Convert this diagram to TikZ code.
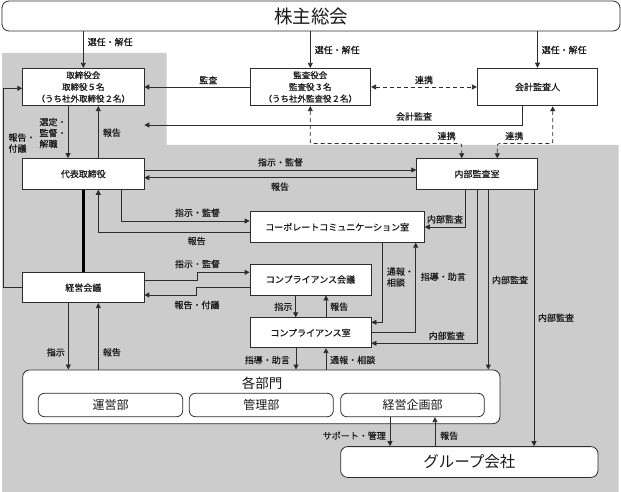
\documentclass[tikz,border=0pt]{standalone}
\usepackage{fontspec}
\setmainfont{Noto Sans CJK JP}
\newfontfamily\smallfont{Noto Sans CJK JP}[FakeBold=0.45]
\usetikzlibrary{arrows.meta}

\definecolor{bgcolor}{RGB}{204,204,204}
\definecolor{linecolor}{RGB}{45,45,45}
\definecolor{textcolor}{RGB}{25,25,25}

\tikzset{
  box/.style={draw=linecolor, fill=white, line width=0.8pt, inner sep=0pt, align=center, text=textcolor, font=\smallfont\fontsize{9}{11}\selectfont},
  triobox/.style={box, font=\smallfont\fontsize{8.5}{11.7}\selectfont},
  roundbox/.style={box, rounded corners=7pt},
  lbl/.style={inner sep=0pt, text=textcolor, align=left, font=\smallfont\fontsize{9}{11}\selectfont},
  arr/.style={draw=linecolor, line width=0.8pt, -{Triangle[length=5pt,width=5pt]}},
  linkarr/.style={arr, {Triangle[length=5pt,width=5pt]}-{Triangle[length=5pt,width=5pt]}, dash pattern=on 4pt off 3pt},
}

\begin{document}
\begin{tikzpicture}[x=1pt,y=-1pt]
        \useasboundingbox (0,0) rectangle (621,492);

        % Gray area
        \fill[bgcolor] (2,53) -- (166.7,53) -- (166.7,145) -- (618.5,145) -- (618.5,492) -- (2,492) -- cycle;

        % Boxes
        \node[roundbox, minimum width=618pt, minimum height=30pt, font=\rmfamily\fontsize{18.5}{20}\selectfont] (soukai) at (311,16) {株主総会};
        \node[triobox, minimum width=121.3pt, minimum height=37.4pt] (torikai) at (83.3,87) {取締役会\\取締役５名\\（うち社外取締役２名）};
        \node[triobox, minimum width=120.7pt, minimum height=37.4pt] (kansakai) at (310.3,87) {監査役会\\監査役３名\\（うち社外監査役２名）};
        \node[box, minimum width=120.4pt, minimum height=37.7pt] (kaikei) at (537.5,87) {会計監査人};
        \node[box, minimum width=121.3pt, minimum height=30.8pt] (daihyo) at (83.3,174) {代表取締役};
        \node[box, minimum width=120.6pt, minimum height=30.6pt] (naibu) at (477,174) {内部監査室};
        \node[box, minimum width=174.3pt, minimum height=30.6pt] (corp) at (337.2,227) {コーポレートコミュニケーション室};
        \node[box, minimum width=121.3pt, minimum height=30pt] (keiei) at (83.3,287.7) {経営会議};
        \node[box, minimum width=121pt, minimum height=31pt] (compkai) at (310.5,279.5) {コンプライアンス会議};
        \node[box, minimum width=121pt, minimum height=30pt] (compshitsu) at (310.5,332.7) {コンプライアンス室};

        % Departments
        \node[roundbox, minimum width=477.3pt, minimum height=53.7pt] (kakubu) at (261.3,396.8) {};
        \node[lbl, font=\rmfamily\fontsize{13.5}{14}\selectfont] (kakubuname) at (262,383) {各部門};
        \node[roundbox, rounded corners=6pt, minimum width=144.4pt, minimum height=23.4pt, font=\rmfamily\fontsize{12}{13}\selectfont] (unei) at (110.5,405) {運営部};
        \node[roundbox, rounded corners=6pt, minimum width=144pt, minimum height=23.4pt, font=\rmfamily\fontsize{12}{13}\selectfont] (kanri) at (261.3,405) {管理部};
        \node[roundbox, rounded corners=6pt, minimum width=143.6pt, minimum height=23.4pt, font=\rmfamily\fontsize{12}{13}\selectfont] (kikaku) at (412.5,405) {経営企画部};
        \node[roundbox, minimum width=257.3pt, minimum height=30.8pt, font=\rmfamily\fontsize{15.5}{17}\selectfont] (group) at (469.3,462) {グループ会社};

        % Shareholders
        \draw[arr] (soukai.south -| torikai.north) -- (torikai.north);
        \draw[arr] (soukai.south -| kansakai.north) -- (kansakai.north);
        \draw[arr] (soukai.south -| kaikei.north) -- (kaikei.north);
        \node[lbl, anchor=west] (senA) at (87.5,42) {選任・解任};
        \node[lbl, anchor=west] (senB) at (314.5,50) {選任・解任};
        \node[lbl, anchor=west] (senC) at (541.5,50) {選任・解任};

        % Audit
        \draw[arr] (kansakai.west) -- (torikai.east);
        \node[lbl] (kansa) at (208.3,80) {監査};
        \draw[linkarr] (kansakai.east) -- (kaikei.west);
        \node[lbl] (renkeiA) at (424,80) {連携};
        \draw[arr] ([xshift=-15.2pt]kaikei.south) |- ([yshift=-38pt]torikai.east);
        \node[lbl] (kaikeikansa) at (414,116.5) {会計監査};
        \draw[linkarr, rounded corners=2pt] (kansakai.south) |- ([xshift=-15.3pt,yshift=14.7pt]naibu.north) -- ([xshift=-15.3pt]naibu.north);
        \draw[linkarr, rounded corners=2pt] ([xshift=15.2pt]kaikei.south) |- ([xshift=20.3pt,yshift=14.7pt]naibu.north) -- ([xshift=20.3pt]naibu.north);
        \node[lbl] (renkeiB) at (446.7,136) {連携};
        \node[lbl] (renkeiC) at (514.3,136) {連携};

        % Board and representative
        \draw[arr] ([xshift=-15.3pt]torikai.south) -- ([xshift=-15.3pt]daihyo.north);
        \node[lbl, anchor=west] (sentei) at (39.3,133) {選定・\\監督・\\解職};
        \draw[arr] ([xshift=15pt]daihyo.north) -- ([xshift=15pt]torikai.south);
        \node[lbl, anchor=west] (houkokuA) at (102.7,132.7) {報告};
        \draw[arr] (keiei.west) -- ++(-18.7,0) |- ([yshift=-1.3pt]torikai.west);
        \node[lbl, anchor=west] (fugiA) at (8.3,143) {報告・\\付議};
        \draw[line width=3.5pt] (daihyo.south) -- (keiei.north);

        % Representative and offices
        \draw[arr] ([yshift=4pt]daihyo.east) -- ([yshift=4pt]naibu.west);
        \node[lbl] (shijiA) at (280.5,162.3) {指示・監督};
        \draw[arr] ([yshift=-3.7pt]naibu.west) -- ([yshift=-3.7pt]daihyo.east);
        \node[lbl] (houkokuB) at (280,186.7) {報告};
        \draw[arr] ([xshift=38.4pt]daihyo.south) |- ([yshift=6pt]corp.west);
        \node[lbl] (shijiB) at (197.5,212.7) {指示・監督};
        \draw[arr] ([yshift=-5.7pt]corp.west) -| ([xshift=15pt]daihyo.south);
        \node[lbl] (houkokuC) at (196.7,241) {報告};

        % Management meeting and compliance
        \draw[arr] ([yshift=7.7pt]keiei.east) -- ++(53,0) |- ([yshift=7.2pt]compkai.west);
        \node[lbl] (shijiC) at (197.5,264) {指示・監督};
        \draw[arr] ([yshift=-7.8pt]compkai.west) -- ++(-53.3,0) |- ([yshift=-7.3pt]keiei.east);
        \node[lbl] (fugiB) at (197,305) {報告・付議};
        \draw[arr] ([xshift=-14.8pt]compkai.south) -- ([xshift=-14.8pt]compshitsu.north);
        \node[lbl, anchor=east] (shijiD) at (292.5,306.7) {指示};
        \draw[arr] ([xshift=15.5pt]compshitsu.north) -- ([xshift=15.5pt]compkai.south);
        \node[lbl, anchor=west] (houkokuD) at (330,306.7) {報告};
        \draw[arr] ([xshift=45.1pt]corp.south) |- ([yshift=10.4pt]compshitsu.east);
        \node[lbl, anchor=west] (tsuhouA) at (386.7,277) {通報・\\相談};
        \draw[arr] (compshitsu.east) -| ([xshift=78.5pt]corp.south);
        \node[lbl] (shidouA) at (443.3,276.7) {指導・助言};

        % Internal audit
        \draw[arr] ([xshift=-11.3pt]naibu.south) |- (corp.east);
        \node[lbl] (naibuA) at (445,219.3) {内部監査};
        \draw[arr] ([xshift=0.3pt]naibu.south) |- ([yshift=-10.6pt]compshitsu.east);
        \node[lbl] (naibuB) at (446.7,335.7) {内部監査};
        \draw[arr] ([xshift=11.3pt]naibu.south) -- ([xshift=11.3pt]naibu.south |- kakubu.north);
        \node[lbl] (naibuC) at (510,280) {内部監査};
        \draw[arr] ([xshift=57pt]naibu.south) -- ([xshift=57pt]naibu.south |- group.north);
        \node[lbl] (naibuD) at (556,317.7) {内部監査};

        % Departments
        \draw[arr] ([xshift=-15pt]keiei.south) -- ([xshift=-15pt]keiei.south |- kakubu.north);
        \node[lbl, anchor=east] (shijiE) at (65,352.3) {指示};
        \draw[arr] ([xshift=15pt]keiei.south |- kakubu.north) -- ([xshift=15pt]keiei.south);
        \node[lbl, anchor=west] (houkokuE) at (102.7,352.3) {報告};
        \draw[arr] ([xshift=-14.5pt]compshitsu.south) -- ([xshift=-14.5pt]compshitsu.south |- kakubu.north);
        \node[lbl, anchor=east] (shidouB) at (290,360) {指導・助言};
        \draw[arr] ([xshift=15.5pt]compshitsu.south |- kakubu.north) -- ([xshift=15.5pt]compshitsu.south);
        \node[lbl, anchor=west] (tsuhouB) at (330,360) {通報・相談};

        % Group companies
        \draw[arr] ([xshift=-22.5pt]kikaku.south) -- ([xshift=-22.5pt]kikaku.south |- group.north);
        \node[lbl, anchor=east] (support) at (386,435.7) {サポート・管理};
        \draw[arr] ([xshift=22.5pt]kikaku.south |- group.north) -- ([xshift=22.5pt]kikaku.south);
        \node[lbl, anchor=west] (houkokuF) at (440,435.7) {報告};
\end{tikzpicture}
\end{document}
